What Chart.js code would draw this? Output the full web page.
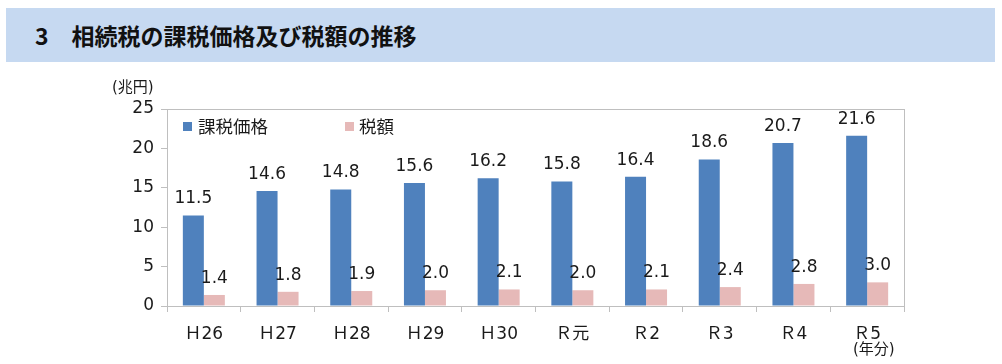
<!DOCTYPE html>
<html lang="ja">
<head>
<meta charset="utf-8">
<script src="https://cdn.jsdelivr.net/npm/chart.js@4.4.1/dist/chart.umd.min.js"></script>
<style>
  html, body { margin: 0; padding: 0; background: #fff; }
  body { width: 1002px; height: 364px; position: relative; overflow: hidden;
         font-family: "DejaVu Sans", "Noto Sans CJK JP", sans-serif; color: #1a1a1a; }
  #banner { position: absolute; left: 6px; top: 8px; width: 989px; height: 54px; background: #c6d9f1; }
  #title { position: absolute; left: 35px; top: 20px; font-family: "Noto Sans CJK JP", sans-serif;
           font-weight: bold; font-size: 23px; line-height: 30px; color: #111; white-space: pre; }
  #wrap { position: absolute; left: 0; top: 0; width: 1002px; height: 364px; }
  .txt { position: absolute; white-space: pre; font-family: "DejaVu Sans", "Noto Sans CJK JP", sans-serif; color: #1a1a1a; }
  .sw { position: absolute; width: 9px; height: 9px; }
</style>
</head>
<body>
<div id="banner"></div>
<div id="title">3　相続税の課税価格及び税額の推移</div>
<div id="wrap"><canvas id="c" width="1002" height="364"></canvas></div>
<div class="txt" style="left:112px; top:77px; font-size:15px; line-height:20px;">(兆円)</div>
<div class="sw" style="left:183px; top:122px; background:#4f81bd;"></div>
<div class="txt" style="left:198px; top:115px; font-size:17.5px; line-height:24px;">課税価格</div>
<div class="sw" style="left:345px; top:122px; background:#e6b9b8;"></div>
<div class="txt" style="left:359px; top:115px; font-size:17.5px; line-height:24px;">税額</div>
<div class="txt" style="left:853px; top:340px; font-size:15px; line-height:18px;">(年分)</div>
<script>
const categories = ["Ｈ26", "Ｈ27", "Ｈ28", "Ｈ29", "Ｈ30", "Ｒ元", "Ｒ2", "Ｒ3", "Ｒ4", "Ｒ5"];
const taxablePrice = [11.5, 14.6, 14.8, 15.6, 16.2, 15.8, 16.4, 18.6, 20.7, 21.6];
const taxAmount = [1.4, 1.8, 1.9, 2.0, 2.1, 2.0, 2.1, 2.4, 2.8, 3.0];
const yTicks = [0, 5, 10, 15, 20, 25];
const seriesNames = ["課税価格", "税額"];

const FONT = "'DejaVu Sans', 'Noto Sans CJK JP', sans-serif";
const GRID = "#bfbfbf";

const valueLabels = {
  id: "valueLabels",
  afterDatasetsDraw(chart) {
    const ctx = chart.ctx;
    ctx.save();
    ctx.font = "17px " + FONT;
    ctx.fillStyle = "#1a1a1a";
    ctx.textAlign = "center";
    ctx.textBaseline = "bottom";
    chart.data.datasets.forEach((ds, i) => {
      chart.getDatasetMeta(i).data.forEach((el, j) => {
        ctx.fillText(ds.data[j].toFixed(1), el.x, el.y - 8);
      });
    });
    ctx.restore();
  }
};

const frame = {
  id: "frame",
  beforeDatasetsDraw(chart) {
    const a = chart.chartArea, ctx = chart.ctx;
    ctx.save();
    ctx.strokeStyle = GRID;
    ctx.lineWidth = 1;
    ctx.strokeRect(Math.round(a.left) + 0.5, Math.round(a.top) + 0.5,
                   Math.round(a.right - a.left), Math.round(a.bottom - a.top));
    ctx.restore();
  }
};

new Chart(document.getElementById("c"), {
  type: "bar",
  data: {
    labels: categories,
    datasets: [
      { label: seriesNames[0], data: taxablePrice, backgroundColor: "#4f81bd",
        categoryPercentage: 0.57, barPercentage: 1.0 },
      { label: seriesNames[1], data: taxAmount, backgroundColor: "#e6b9b8",
        categoryPercentage: 0.57, barPercentage: 1.0 }
    ]
  },
  options: {
    responsive: false,
    animation: false,
    layout: { padding: { top: 109, right: 98, left: 0, bottom: 0 } },
    plugins: { legend: { display: false }, tooltip: { enabled: false } },
    scales: {
      x: {
        afterFit(s) { s.height = 58; },
        grid: { display: true, drawOnChartArea: false, drawTicks: true, tickLength: 6, color: GRID, offset: true },
        border: { display: true, color: GRID },
        ticks: { font: { family: FONT, size: 17 }, color: "#1a1a1a", padding: 12, maxRotation: 0 }
      },
      y: {
        min: 0, max: 25,
        afterFit(s) { s.width = 167; },
        afterBuildTicks(s) { s.ticks = yTicks.map(v => ({ value: v })); },
        grid: { display: true, drawOnChartArea: false, drawTicks: true, tickLength: 6, color: GRID },
        border: { display: true, color: GRID },
        ticks: { font: { family: FONT, size: 17 }, color: "#1a1a1a", padding: 7 }
      }
    }
  },
  plugins: [frame, valueLabels]
});
</script>
</body>
</html>
